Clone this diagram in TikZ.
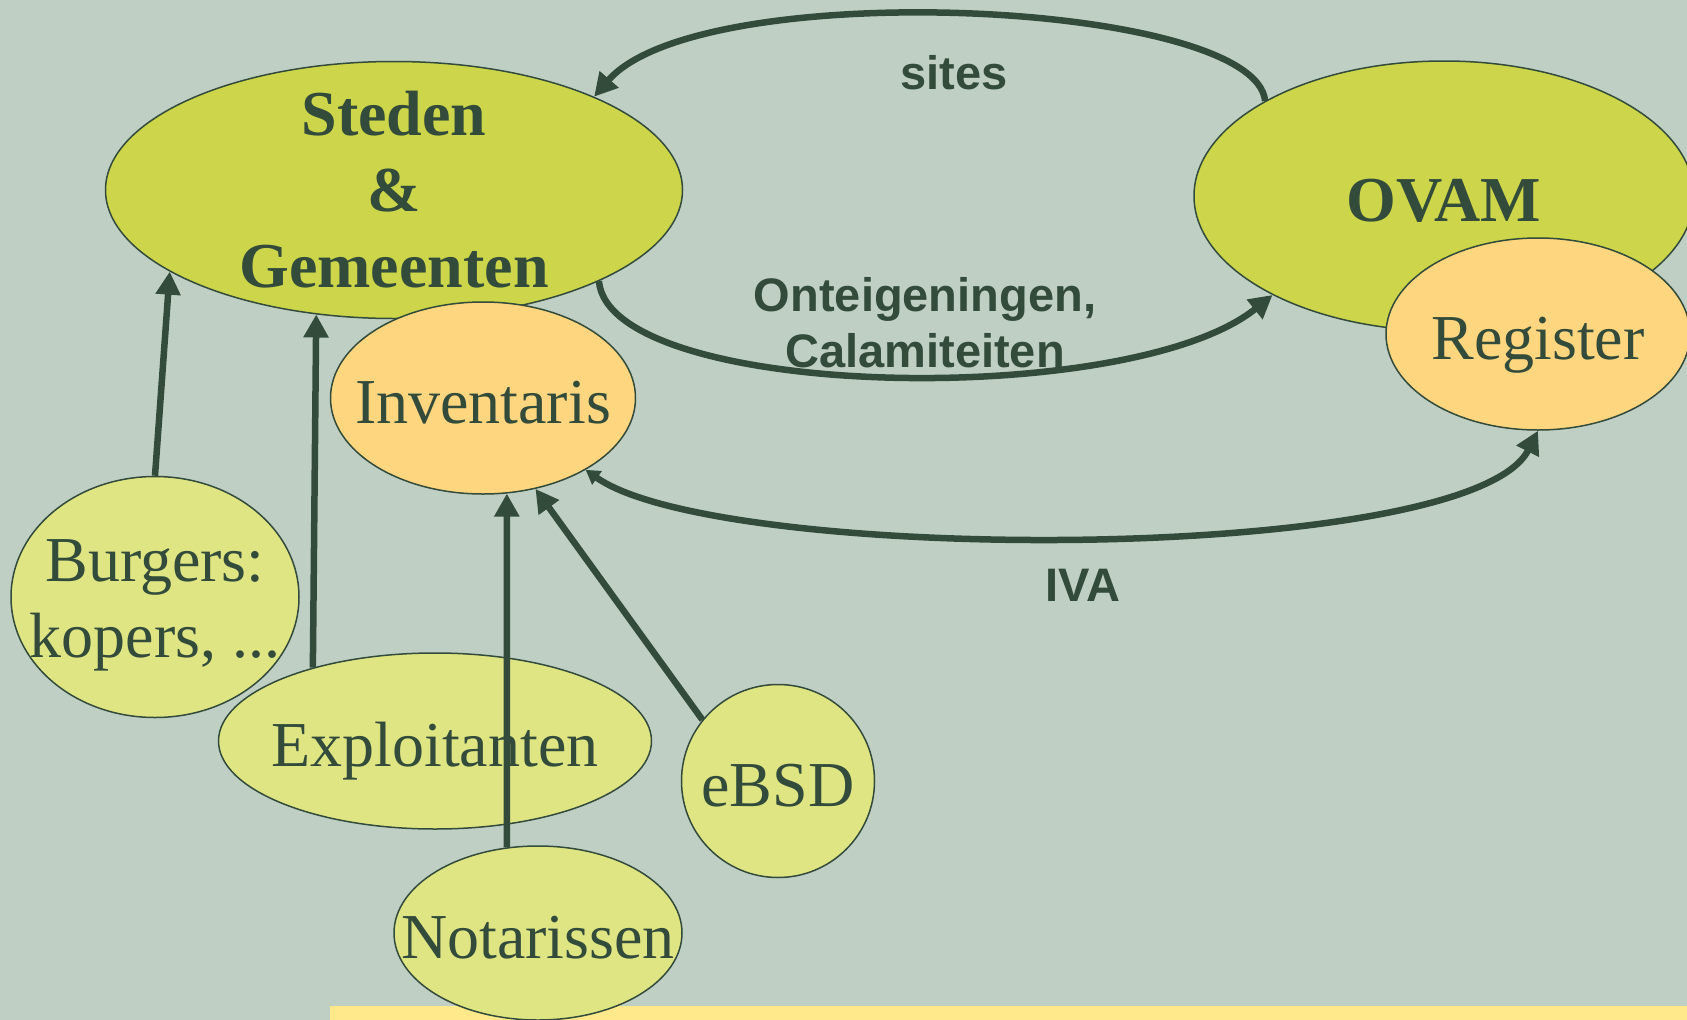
\documentclass[tikz,border=0pt]{standalone}
\usepackage{fontspec}
\setmainfont{Liberation Serif}
\setsansfont{Liberation Sans}
\usetikzlibrary{arrows.meta}
\usetikzlibrary{shapes.geometric}
\definecolor{bgcol}{RGB}{191,207,196}
\definecolor{ink}{RGB}{50,75,58}
\definecolor{olive}{RGB}{205,214,74}
\definecolor{peach}{RGB}{255,214,128}
\definecolor{pale}{RGB}{224,229,132}
\definecolor{band}{RGB}{255,233,138}
\tikzstyle{blob}=[ellipse, draw=ink, line width=1.5pt, text=ink, inner sep=-50pt, align=center, font=\fontsize{64}{76}\selectfont]
\tikzstyle{oneline}=[text height=50pt, text depth=0pt]
\tikzstyle{big}=[blob, fill=olive, font=\fontsize{64}{76}\selectfont\bfseries]
\tikzstyle{store}=[blob, fill=peach]
\tikzstyle{src}=[blob, fill=pale]
\tikzstyle{flow}=[draw=ink, line width=6.5pt, -{Triangle[length=23pt,width=24pt]}]
\tikzstyle{tag}=[text=ink, align=center, font=\sffamily\bfseries\fontsize{47}{56}\selectfont]

\begin{document}
\begin{tikzpicture}[x=1pt, y=-1pt]
    \fill[bgcol] (0,0) rectangle (1687,1020);
    \useasboundingbox (0,0) rectangle (1687,1020);
    \fill[band] (330,1006) rectangle (1687,1020);
    \node[big, minimum width=577pt, minimum height=257pt] (steden) at (394,190) {Steden\\\&\\Gemeenten};
    \node[store, oneline, minimum width=305pt, minimum height=192pt] (inv) at (483,398) {Inventaris};
    \node[big, oneline, minimum width=500pt, minimum height=270pt] (ovam) at (1444,196) {OVAM};
    \node[store, oneline, minimum width=304pt, minimum height=192pt] (reg) at (1538,334) {Register};
    \node[src, minimum width=288pt, minimum height=241pt] (burg) at (155,597) {\rule{0pt}{58pt}Burgers:\\kopers, ...};
    \node[src, oneline, minimum width=433pt, minimum height=176pt] (expl) at (435,741) {Exploitanten};
    \node[src, oneline, circle, minimum size=193pt] (ebsd) at (778,781) {eBSD};
    \node[src, oneline, minimum width=288pt, minimum height=174pt] (notar) at (538,933) {Notarissen};
    \foreach \from/\dest in
      {burg.90/steden.200, expl.149/steden.238, notar.110/inv.284, ebsd.141/inv.300}
    \draw[flow] (\from) -- (\dest);
    \draw[flow] (ovam.152) .. controls (1255,0) and (700,-25) .. (steden.25);
    \draw[flow] (steden.336) .. controls (610,400) and (1130,410) .. (ovam.210);
    \draw[flow, {Triangle[length=14pt,width=16pt]}-{Triangle[length=23pt,width=24pt]}] (inv.325) .. controls (720,565) and (1470,565) .. (reg.270);
    \node[tag] (sites) at (954,73) {sites};
    \node[tag] (onteig) at (925,323) {Onteigeningen,\\Calamiteiten};
    \node[tag] (iva) at (1083,585) {IVA};
\end{tikzpicture}
\end{document}
